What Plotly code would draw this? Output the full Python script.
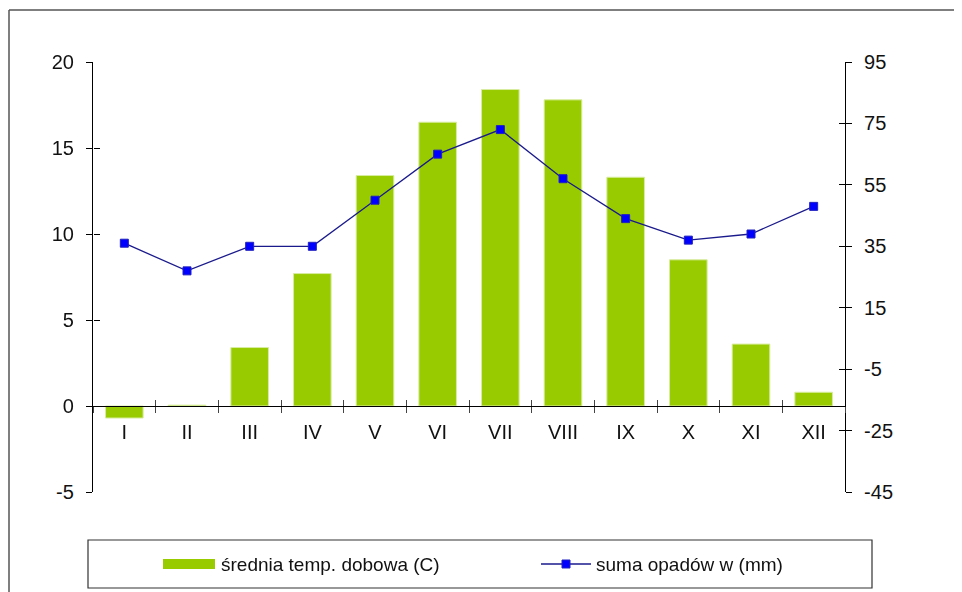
import plotly.graph_objs as go

# monthly climate data
months = ['I', 'II', 'III', 'IV', 'V', 'VI', 'VII', 'VIII', 'IX', 'X', 'XI', 'XII']
temp = [-0.7, 0.05, 3.4, 7.7, 13.4, 16.5, 18.4, 17.8, 13.3, 8.5, 3.6, 0.8]
precip = [36, 27, 35, 35, 50, 65, 73, 57, 44, 37, 39, 48]

temp_ticks = [-5, 0, 5, 10, 15, 20]
precip_ticks = [-45, -25, -5, 15, 35, 55, 75, 95]

FONT = 'Liberation Sans, Arial, sans-serif'
GREEN = '#99cc00'
NAVY = '#1a1a8c'
BLUE = '#0000ff'

# page offset of the plotly div (body margin)
OFF = 8
W, H = 962, 592
# plot area in page pixels (used to place the hand-drawn legend and frame)
L, R, T, B = 93, 845, 62, 492


def px(x):
    return (x - L) / (R - L)


def py(y):
    return (B - y) / (B - T)


fig = go.Figure()

fig.add_trace(go.Bar(
    x=months, y=temp, name='średnia temp. dobowa (C)',
    marker=dict(color=GREEN, line=dict(color='#d8eca0', width=1)),
    xaxis='x', yaxis='y', showlegend=False
))

fig.add_trace(go.Scatter(
    x=months, y=precip, name='suma opadów w (mm)',
    mode='lines+markers',
    line=dict(color=NAVY, width=1.3),
    marker=dict(symbol='square', size=8, color=BLUE,
                line=dict(color='#2020c0', width=1)),
    xaxis='x', yaxis='y2', showlegend=False
))

# invisible copies so the overlay axes (inner half of the crossing ticks) get drawn
fig.add_trace(go.Scatter(x=months, y=temp, mode='markers', opacity=0,
                         hoverinfo='skip', showlegend=False,
                         xaxis='x3', yaxis='y3'))
fig.add_trace(go.Scatter(x=months, y=precip, mode='markers', opacity=0,
                         hoverinfo='skip', showlegend=False,
                         xaxis='x3', yaxis='y4'))

tick_font = dict(family=FONT, size=20, color='#111')
zero_pos = (0 - temp_ticks[0]) / (temp_ticks[-1] - temp_ticks[0])

common_x = dict(type='category', categoryorder='array', categoryarray=months,
                range=[-0.5, 11.5], tickson='boundaries', ticklen=6,
                tickcolor='#444', tickwidth=1, showgrid=False, zeroline=False,
                anchor='free', position=zero_pos)

fig.update_layout(
    width=W - OFF, height=H - OFF,
    margin=dict(l=L - OFF, r=W - R, t=T - OFF, b=H - B),
    paper_bgcolor='white', plot_bgcolor='white',
    font=dict(family=FONT, size=20, color='#111'),
    bargap=0.4,
    xaxis=dict(**common_x, ticks='outside', showline=True, linecolor='black',
               linewidth=1.2, tickfont=tick_font, ticklabelstandoff=8),
    xaxis3=dict(**common_x, ticks='inside', overlaying='x',
                showticklabels=False, showline=False),
    yaxis=dict(range=[temp_ticks[0], temp_ticks[-1]], tickvals=temp_ticks,
               ticktext=[str(v) for v in temp_ticks],
               ticks='outside', ticklen=6, tickcolor='black', showline=True,
               linecolor='black', linewidth=1.2, showgrid=False, zeroline=False,
               tickfont=tick_font, ticklabelstandoff=8),
    yaxis2=dict(range=[precip_ticks[0], precip_ticks[-1]], tickvals=precip_ticks,
                ticktext=[str(v) for v in precip_ticks],
                overlaying='y', side='right', ticks='outside', ticklen=6,
                tickcolor='black', showline=True, linecolor='black',
                linewidth=1.2, showgrid=False, zeroline=False,
                tickfont=tick_font, ticklabelstandoff=8),
    yaxis3=dict(range=[temp_ticks[0], temp_ticks[-1]], tickvals=temp_ticks,
                overlaying='y', anchor='free', position=0, side='left',
                ticks='inside', ticklen=6, tickcolor='black',
                showticklabels=False, showgrid=False, zeroline=False),
    yaxis4=dict(range=[precip_ticks[0], precip_ticks[-1]], tickvals=precip_ticks,
                overlaying='y', anchor='free', position=1, side='right',
                ticks='inside', ticklen=6, tickcolor='black',
                showticklabels=False, showgrid=False, zeroline=False),
    showlegend=False,
)

# outer chart frame (only the left and top edges fall inside the picture)
frame = dict(color='#555', width=1.5)
fig.add_shape(type='line', xref='paper', yref='paper',
              x0=px(9), x1=px(9), y0=py(600), y1=py(10), line=frame,
              layer='below')
fig.add_shape(type='line', xref='paper', yref='paper',
              x0=px(9), x1=px(970), y0=py(10), y1=py(10), line=frame,
              layer='below')

# legend box and entries
fig.add_shape(type='rect', xref='paper', yref='paper',
              x0=px(88), x1=px(872), y0=py(588), y1=py(540),
              line=dict(color='#333', width=1.2), fillcolor='white')
fig.add_shape(type='rect', xref='paper', yref='paper',
              x0=px(163), x1=px(215), y0=py(569), y1=py(559),
              line=dict(width=0), fillcolor=GREEN)
fig.add_annotation(xref='paper', yref='paper', x=px(219), y=py(564),
                   text='średnia temp. dobowa (C)', showarrow=False,
                   xanchor='left', yanchor='middle',
                   font=dict(family=FONT, size=19, color='#111'))
fig.add_shape(type='line', xref='paper', yref='paper',
              x0=px(541), x1=px(591), y0=py(564), y1=py(564),
              line=dict(color=NAVY, width=1.3))
fig.add_shape(type='rect', xref='paper', yref='paper',
              x0=px(562), x1=px(570), y0=py(568), y1=py(560),
              line=dict(color='#2020c0', width=1), fillcolor=BLUE)
fig.add_annotation(xref='paper', yref='paper', x=px(594), y=py(564),
                   text='suma opadów w (mm)', showarrow=False,
                   xanchor='left', yanchor='middle',
                   font=dict(family=FONT, size=19, color='#111'))

fig.write_html("out.html")
